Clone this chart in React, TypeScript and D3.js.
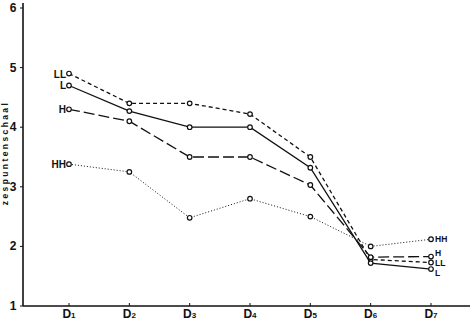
import React from "react";
import * as d3 from "d3";

const categories = ["D1", "D2", "D3", "D4", "D5", "D6", "D7"];
const yTicks = [1, 2, 3, 4, 5, 6];

const seriesNames = ["LL", "L", "H", "HH"];
const llValues = [4.9, 4.4, 4.4, 4.22, 3.5, 1.78, 1.73];
const lValues = [4.7, 4.27, 4.0, 4.0, 3.32, 1.72, 1.62];
const hValues = [4.3, 4.1, 3.5, 3.5, 3.03, 1.82, 1.83];
const hhValues = [3.38, 3.25, 2.48, 2.8, 2.5, 2.0, 2.12];

const dashes = ["4,3", "", "11,4", "1,2"];
// label offsets at the right end (D7), in px
const rightNudge = [1, 4, -4, 0];

const size = { width: 470, height: 320 };
const margin = { left: 23, top: 6, right: 0, bottom: 14 };

const App = () => {
  const allSeries = [llValues, lValues, hValues, hhValues];

  const x = d3
    .scalePoint()
    .domain(categories)
    .range([69, 431]);
  const y = d3
    .scaleLinear()
    .domain([1, 6])
    .range([size.height - margin.bottom, 8]);

  const line = d3
    .line()
    .x((d, i) => x(categories[i]))
    .y((d) => y(d));

  const ink = "#111";
  const font = "'Liberation Sans', Arial, sans-serif";

  return (
    <svg
      width={size.width}
      height={size.height}
      style={{ position: "absolute", left: 0, top: 0, background: "#fff" }}
      fontFamily={font}
    >
      {/* axes */}
      <line
        x1={margin.left}
        x2={margin.left}
        y1={margin.top - 3}
        y2={y(1)}
        stroke={ink}
        strokeWidth={1.6}
      />
      <line
        x1={margin.left}
        x2={size.width}
        y1={y(1)}
        y2={y(1)}
        stroke={ink}
        strokeWidth={1.4}
      />
      {yTicks.map((t) => (
        <g key={t}>
          <line x1={margin.left - 3} x2={margin.left} y1={y(t)} y2={y(t)} stroke={ink} />
          <text
            x={13}
            y={y(t) + 4}
            textAnchor="middle"
            fontSize={12}
            fontWeight="bold"
            fill={ink}
          >
            {t}
          </text>
        </g>
      ))}
      {categories.map((c) => (
        <g key={c}>
          <line x1={x(c)} x2={x(c)} y1={y(1)} y2={y(1) - 3} stroke={ink} />
          <text x={x(c)} y={318} textAnchor="middle" fontSize={12} fontWeight="bold" fill={ink}>
            {c[0]}
            <tspan fontSize={8}>{c.slice(1)}</tspan>
          </text>
        </g>
      ))}
      <text
        transform={`translate(8 ${153}) rotate(-90)`}
        textAnchor="middle"
        fontSize={8.5}
        fontWeight="bold"
        letterSpacing={2.4}
        fill={ink}
      >
        zespuntenschaal
      </text>

      {/* series */}
      {allSeries.map((vals, si) => (
        <g key={seriesNames[si]}>
          <path
            d={line(vals)}
            fill="none"
            stroke={ink}
            strokeWidth={si === 3 ? 1 : 1.3}
            strokeDasharray={dashes[si]}
          />
          {vals.map((v, i) => (
            <circle
              key={i}
              cx={x(categories[i])}
              cy={y(v)}
              r={2.3}
              fill="#fff"
              stroke={ink}
              strokeWidth={1.2}
            />
          ))}
          <text
            x={x(categories[0]) - 3}
            y={y(vals[0]) + 4}
            textAnchor="end"
            fontSize={10}
            fontWeight="bold"
            fill={ink}
          >
            {seriesNames[si]}
          </text>
          <text
            x={x(categories[6]) + 4}
            y={y(vals[6]) + 3 + rightNudge[si]}
            textAnchor="start"
            fontSize={8.5}
            fontWeight="bold"
            fill={ink}
          >
            {seriesNames[si]}
          </text>
        </g>
      ))}
    </svg>
  );
};

export default App;
